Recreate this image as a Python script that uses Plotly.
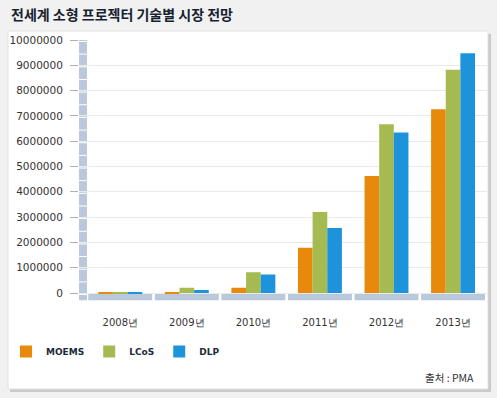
import plotly.graph_objects as go

categories = ["2008년", "2009년", "2010년", "2011년", "2012년", "2013년"]
moems = [5000, 30000, 210000, 1790000, 4620000, 7260000]
lcos = [40000, 210000, 820000, 3200000, 6670000, 8820000]
dlp = [20000, 120000, 730000, 2570000, 6340000, 9480000]
series_names = ["MOEMS", "LCoS", "DLP"]
series_colors = ["#E8890B", "#A6BA52", "#1C93DA"]
tick_vals = list(range(0, 10000001, 1000000))
tick_text = [str(v) for v in tick_vals]

title_text = "전세계 소형 프로젝터 기술별 시장 전망"
source_text = "출처 : PMA"

W, H = 497, 398
# paper = white panel
L, R, T, B = 8, 9, 31, 9
PW, PH = W - L - R, H - T - B

def px_x(p):
    return (p - L) / PW

def px_y(p):
    return (H - B - p) / PH

fig = go.Figure()
for name, vals, col in zip(series_names, [moems, lcos, dlp], series_colors):
    fig.add_trace(go.Bar(x=categories, y=vals, name=name, marker=dict(color=col, line=dict(width=0))))

shapes = []
# page panel with shadow
shapes.append(dict(type="rect", xref="paper", yref="paper", x0=px_x(10), x1=px_x(491), y0=px_y(392), y1=px_y(34),
                   fillcolor="#c9c9c9", line=dict(width=0), layer="below"))
shapes.append(dict(type="rect", xref="paper", yref="paper", x0=0, x1=1, y0=0, y1=1,
                   fillcolor="#ffffff", line=dict(color="#e2e2e2", width=1), layer="below"))
# y-axis 3d wall
shapes.append(dict(type="rect", xref="x", yref="y", x0=-0.62, x1=-0.5, y0=-300000, y1=10000000,
                   fillcolor="#B9C8DA", line=dict(width=0), layer="below"))
for k in range(0, 21):
    v = k * 500000
    shapes.append(dict(type="line", xref="x", yref="y", x0=-0.62, x1=-0.5, y0=v - 60000, y1=v - 60000,
                       line=dict(color="#ffffff", width=1), layer="below"))
# floor segments
for i in range(len(categories)):
    shapes.append(dict(type="rect", xref="x", yref="y", x0=i - 0.48, x1=i + 0.48, y0=-300000, y1=-30000,
                       fillcolor="#B9C8DA", line=dict(width=0), layer="below"))

fig.update_layout(
    width=W, height=H,
    margin=dict(l=L, r=R, t=T, b=B, pad=0, autoexpand=False),
    paper_bgcolor="#f1f1f1",
    plot_bgcolor="rgba(0,0,0,0)",
    barmode="group", bargap=0.34, bargroupgap=0.0,
    shapes=shapes,
    font=dict(family="DejaVu Sans", color="#333333"),
    xaxis=dict(type="category", domain=[px_x(79), px_x(487)], range=[-0.62, 5.51], showgrid=False,
               zeroline=False, showline=False, automargin=False,
               ticks="", tickfont=dict(size=10, color="#333333"), ticklabelstandoff=14),
    yaxis=dict(domain=[px_y(300.6), px_y(40)], range=[-300000, 10000000], tickvals=tick_vals, ticktext=tick_text,
               showgrid=True, automargin=False,
               gridcolor="#e9e9e9", gridwidth=1, zeroline=False, showline=False,
               ticks="outside", ticklen=8, tickcolor="#b0b0b0", tickfont=dict(size=10.5, color="#333333"),
               ticklabelstandoff=5),
    legend=dict(orientation="h", x=px_x(6), y=px_y(337), xanchor="left", yanchor="top",
                bgcolor="rgba(0,0,0,0)", font=dict(family="DejaVu Sans", size=9, color="#1c2a3c", weight="bold"),
                itemclick=False, traceorder="normal"),
    showlegend=True,
    annotations=[
        dict(text=title_text, xref="paper", yref="paper", x=px_x(9), y=px_y(14), xanchor="left", yanchor="middle",
             showarrow=False, font=dict(family="Noto Sans CJK KR", size=14, color="#16222f", weight="bold")),
        dict(text=source_text, xref="paper", yref="paper", x=px_x(476), y=px_y(377), xanchor="right", yanchor="middle",
             showarrow=False, font=dict(family="Noto Sans CJK KR", size=10.5, color="#333333")),
    ],
)

fig.write_html("out.html", config={"displayModeBar": False},
               post_script="document.body.style.margin='0';document.body.style.background='#f1f1f1';")
